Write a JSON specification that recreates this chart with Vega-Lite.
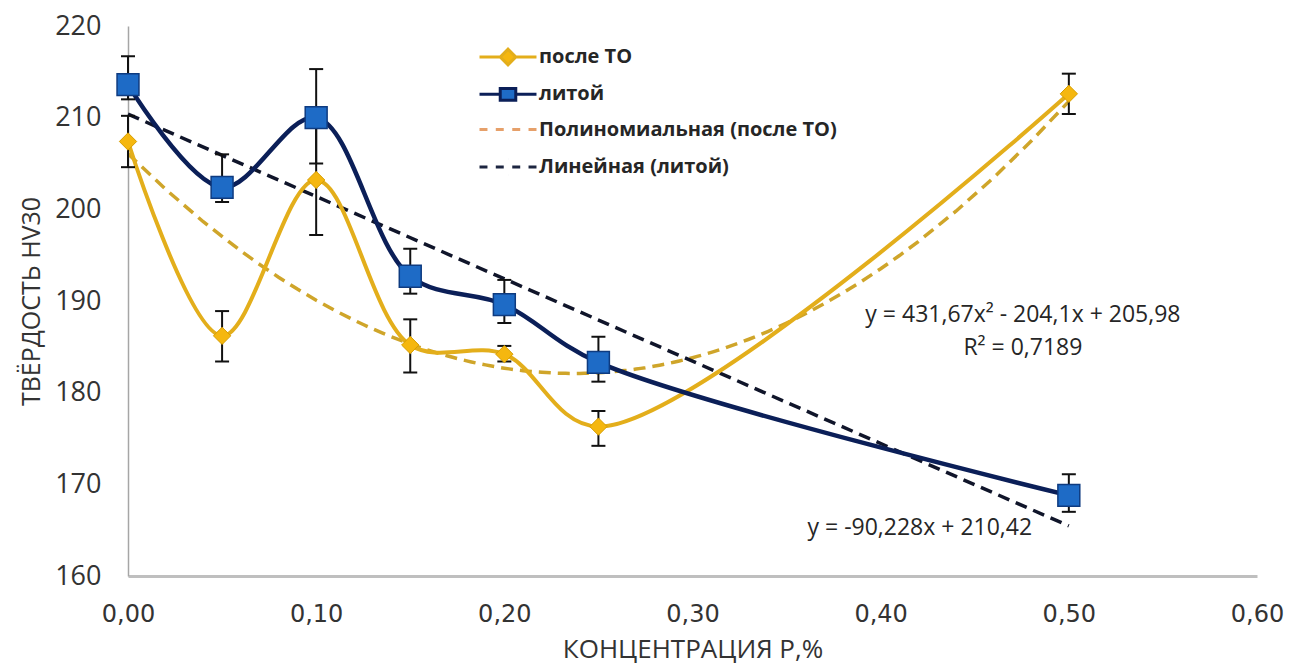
{
  "$schema": "https://vega.github.io/schema/vega-lite/v6.json",
  "width": 1129,
  "height": 550,
  "autosize": {"type": "none"},
  "padding": {"left": 128, "top": 26, "right": 49, "bottom": 96},
  "background": "white",
  "config": {
    "view": {"stroke": null},
    "font": "Open Sans",
    "axisX": {"ticks": false, "grid": false, "domainColor": "#BFBFBF", "domainWidth": 3, "labelFont": "DejaVu Sans", "labelFontSize": 24, "labelColor": "#333333", "labelPadding": 26, "labelFlush": false, "titleFont": "Open Sans", "titleFontSize": 26, "titleFontWeight": "normal", "titleColor": "#333333", "titlePadding": 10},
    "axisY": {"ticks": false, "grid": false, "domainColor": "#A6A6A6", "domainWidth": 1.5, "labelFont": "Open Sans", "labelFontSize": 27, "labelColor": "#333333", "labelPadding": 27, "titleFont": "Open Sans", "titleFontSize": 25, "titleFontWeight": "normal", "titleColor": "#333333", "titlePadding": 10}
  },
  "datasets": {
    "posle": [
      {"x": 0, "y": 207.4, "lo": 204.6, "hi": 210.2},
      {"x": 0.05, "y": 186.2, "lo": 183.4, "hi": 188.9},
      {"x": 0.1, "y": 203.2, "lo": 197.2, "hi": 209.0},
      {"x": 0.15, "y": 185.2, "lo": 182.2, "hi": 188.0},
      {"x": 0.2, "y": 184.2, "lo": 183.4, "hi": 185.1},
      {"x": 0.25, "y": 176.3, "lo": 174.2, "hi": 178.0},
      {"x": 0.5, "y": 212.6, "lo": 210.4, "hi": 214.8}
    ],
    "litoy": [
      {"x": 0, "y": 213.6, "lo": 212.0, "hi": 216.7},
      {"x": 0.05, "y": 202.4, "lo": 200.8, "hi": 206.0},
      {"x": 0.1, "y": 210.0, "lo": 205.0, "hi": 215.3},
      {"x": 0.15, "y": 192.7, "lo": 190.8, "hi": 195.7},
      {"x": 0.2, "y": 189.6, "lo": 187.6, "hi": 192.3},
      {"x": 0.25, "y": 183.3, "lo": 181.2, "hi": 186.1},
      {"x": 0.5, "y": 168.8, "lo": 167.0, "hi": 171.1}
    ],
    "legend": [
      {"series": "после ТО", "x": null, "y": null},
      {"series": "литой", "x": null, "y": null},
      {"series": "Полиномиальная (после ТО)", "x": null, "y": null},
      {"series": "Линейная (литой)", "x": null, "y": null}
    ],
    "notes": [
      {"x": 0.4756, "y": 188.5, "text": "y = 431,67x² - 204,1x + 205,98"},
      {"x": 0.4756, "y": 184.9, "text": "R² = 0,7189"},
      {"x": 0.4208, "y": 165.2, "text": "y = -90,228x + 210,42"}
    ]
  },
  "layer": [
    {
      "data": {"name": "posle"},
      "transform": [{"regression": "y", "on": "x", "method": "poly", "order": 2, "extent": [0, 0.5]}],
      "mark": {"type": "line", "stroke": "#CFA52A", "strokeWidth": 3.5, "strokeDash": [12, 7]},
      "encoding": {
        "x": {"field": "x", "type": "quantitative", "title": "КОНЦЕНТРАЦИЯ Р,%", "scale": {"domain": [0, 0.6], "nice": false, "zero": false}, "axis": {"values": [0, 0.1, 0.2, 0.3, 0.4, 0.5, 0.6], "labelExpr": "replace(format(datum.value, '.2f'), '.', ',')"}},
        "y": {"field": "y", "type": "quantitative", "title": "ТВЁРДОСТЬ HV30", "scale": {"domain": [160, 220], "nice": false, "zero": false}, "axis": {"values": [160, 170, 180, 190, 200, 210, 220]}}
      }
    },
    {
      "data": {"name": "litoy"},
      "transform": [{"regression": "y", "on": "x", "method": "linear", "extent": [0, 0.5]}],
      "mark": {"type": "line", "stroke": "#10152A", "strokeWidth": 3.5, "strokeDash": [12, 7]},
      "encoding": {
        "x": {"field": "x", "type": "quantitative", "title": "КОНЦЕНТРАЦИЯ Р,%"},
        "y": {"field": "y", "type": "quantitative", "title": "ТВЁРДОСТЬ HV30"}
      }
    },
    {
      "data": {"name": "posle"},
      "mark": {"type": "line", "stroke": "#E3AE1B", "strokeWidth": 4, "interpolate": "catmull-rom"},
      "encoding": {
        "x": {"field": "x", "type": "quantitative", "title": "КОНЦЕНТРАЦИЯ Р,%"},
        "y": {"field": "y", "type": "quantitative", "title": "ТВЁРДОСТЬ HV30"}
      }
    },
    {
      "data": {"name": "litoy"},
      "mark": {"type": "line", "stroke": "#0B1F58", "strokeWidth": 4.5, "interpolate": "catmull-rom"},
      "encoding": {
        "x": {"field": "x", "type": "quantitative", "title": "КОНЦЕНТРАЦИЯ Р,%"},
        "y": {"field": "y", "type": "quantitative", "title": "ТВЁРДОСТЬ HV30"}
      }
    },
    {
      "data": {"name": "posle"},
      "mark": {"type": "rule", "stroke": "#111111", "strokeWidth": 2},
      "encoding": {
        "x": {"field": "x", "type": "quantitative", "title": "КОНЦЕНТРАЦИЯ Р,%"},
        "y": {"field": "lo", "type": "quantitative", "title": "ТВЁРДОСТЬ HV30"},
        "y2": {"field": "hi"}
      }
    },
    {
      "data": {"name": "litoy"},
      "mark": {"type": "rule", "stroke": "#111111", "strokeWidth": 2},
      "encoding": {
        "x": {"field": "x", "type": "quantitative", "title": "КОНЦЕНТРАЦИЯ Р,%"},
        "y": {"field": "lo", "type": "quantitative", "title": "ТВЁРДОСТЬ HV30"},
        "y2": {"field": "hi"}
      }
    },
    {
      "data": {"name": "posle"},
      "mark": {"type": "tick", "orient": "horizontal", "color": "#111111", "size": 14, "thickness": 2, "opacity": 1},
      "encoding": {
        "x": {"field": "x", "type": "quantitative", "title": "КОНЦЕНТРАЦИЯ Р,%"},
        "y": {"field": "lo", "type": "quantitative", "title": "ТВЁРДОСТЬ HV30"}
      }
    },
    {
      "data": {"name": "posle"},
      "mark": {"type": "tick", "orient": "horizontal", "color": "#111111", "size": 14, "thickness": 2, "opacity": 1},
      "encoding": {
        "x": {"field": "x", "type": "quantitative", "title": "КОНЦЕНТРАЦИЯ Р,%"},
        "y": {"field": "hi", "type": "quantitative", "title": "ТВЁРДОСТЬ HV30"}
      }
    },
    {
      "data": {"name": "litoy"},
      "mark": {"type": "tick", "orient": "horizontal", "color": "#111111", "size": 14, "thickness": 2, "opacity": 1},
      "encoding": {
        "x": {"field": "x", "type": "quantitative", "title": "КОНЦЕНТРАЦИЯ Р,%"},
        "y": {"field": "lo", "type": "quantitative", "title": "ТВЁРДОСТЬ HV30"}
      }
    },
    {
      "data": {"name": "litoy"},
      "mark": {"type": "tick", "orient": "horizontal", "color": "#111111", "size": 14, "thickness": 2, "opacity": 1},
      "encoding": {
        "x": {"field": "x", "type": "quantitative", "title": "КОНЦЕНТРАЦИЯ Р,%"},
        "y": {"field": "hi", "type": "quantitative", "title": "ТВЁРДОСТЬ HV30"}
      }
    },
    {
      "data": {"name": "posle"},
      "mark": {"type": "point", "shape": "diamond", "filled": true, "size": 300, "fill": "#F5B70F", "stroke": "#D79E00", "strokeWidth": 1, "opacity": 1},
      "encoding": {
        "x": {"field": "x", "type": "quantitative", "title": "КОНЦЕНТРАЦИЯ Р,%"},
        "y": {"field": "y", "type": "quantitative", "title": "ТВЁРДОСТЬ HV30"}
      }
    },
    {
      "data": {"name": "litoy"},
      "mark": {"type": "point", "shape": "square", "filled": true, "size": 480, "fill": "#1E6BC6", "stroke": "#0E3B80", "strokeWidth": 1.5, "opacity": 1},
      "encoding": {
        "x": {"field": "x", "type": "quantitative", "title": "КОНЦЕНТРАЦИЯ Р,%"},
        "y": {"field": "y", "type": "quantitative", "title": "ТВЁРДОСТЬ HV30"}
      }
    },
    {
      "data": {"name": "notes"},
      "mark": {"type": "text", "align": "center", "baseline": "middle", "font": "Open Sans", "fontSize": 23, "color": "#262626"},
      "encoding": {
        "x": {"field": "x", "type": "quantitative", "title": "КОНЦЕНТРАЦИЯ Р,%"},
        "y": {"field": "y", "type": "quantitative", "title": "ТВЁРДОСТЬ HV30"},
        "text": {"field": "text"}
      }
    },
    {
      "data": {"name": "legend"},
      "mark": {"type": "point", "filled": true, "opacity": 1, "invalid": "filter"},
      "encoding": {
        "x": {"field": "x", "type": "quantitative", "title": "КОНЦЕНТРАЦИЯ Р,%"},
        "y": {"field": "y", "type": "quantitative", "title": "ТВЁРДОСТЬ HV30"},
        "fill": {"field": "series", "type": "nominal",
          "scale": {"domain": ["после ТО", "литой", "Полиномиальная (после ТО)", "Линейная (литой)"], "range": ["#F5B70F", "#1E6BC6", "#ffffff", "#ffffff"]},
          "legend": {"title": null, "orient": "none", "legendX": 360, "legendY": 11, "padding": 0, "symbolSize": 1369, "symbolStrokeWidth": 3, "symbolOpacity": 1, "labelFont": "Open Sans", "labelFontSize": 20, "labelFontWeight": "bold", "labelColor": "#262626", "labelOffset": 11, "rowPadding": 3.3, "labelLimit": 500}},
        "stroke": {"field": "series", "type": "nominal",
          "scale": {"domain": ["после ТО", "литой", "Полиномиальная (после ТО)", "Линейная (литой)"], "range": ["#E3AE1B", "#0B1F58", "#E6A06A", "#1C2540"]},
          "legend": {"title": null, "orient": "none", "legendX": 360, "legendY": 11, "padding": 0, "symbolSize": 1369, "symbolStrokeWidth": 3, "symbolOpacity": 1, "labelFont": "Open Sans", "labelFontSize": 20, "labelFontWeight": "bold", "labelColor": "#262626", "labelOffset": 11, "rowPadding": 3.3, "labelLimit": 500}},
        "shape": {"field": "series", "type": "nominal",
          "scale": {"domain": ["после ТО", "литой", "Полиномиальная (после ТО)", "Линейная (литой)"], "range": ["M-1.54,0H-0.42M0.42,0H1.54M-0.42,0L0,-0.42L0.42,0L0,0.42Z", "M-1.54,0H-0.42M0.42,0H1.54M-0.42,-0.32H0.42V0.32H-0.42Z", "M-1.54,0H-1.11M-0.66,0H-0.23M0.23,0H0.66M1.11,0H1.54M0,-0.42L0.001,-0.42M0,0.42L0.001,0.42", "M-1.54,0H-1.11M-0.66,0H-0.23M0.23,0H0.66M1.11,0H1.54M0,-0.42L0.001,-0.42M0,0.42L0.001,0.42"]},
          "legend": {"title": null, "orient": "none", "legendX": 360, "legendY": 11, "padding": 0, "symbolSize": 1369, "symbolStrokeWidth": 3, "symbolOpacity": 1, "labelFont": "Open Sans", "labelFontSize": 20, "labelFontWeight": "bold", "labelColor": "#262626", "labelOffset": 11, "rowPadding": 3.3, "labelLimit": 500}}
      }
    }
  ]
}
